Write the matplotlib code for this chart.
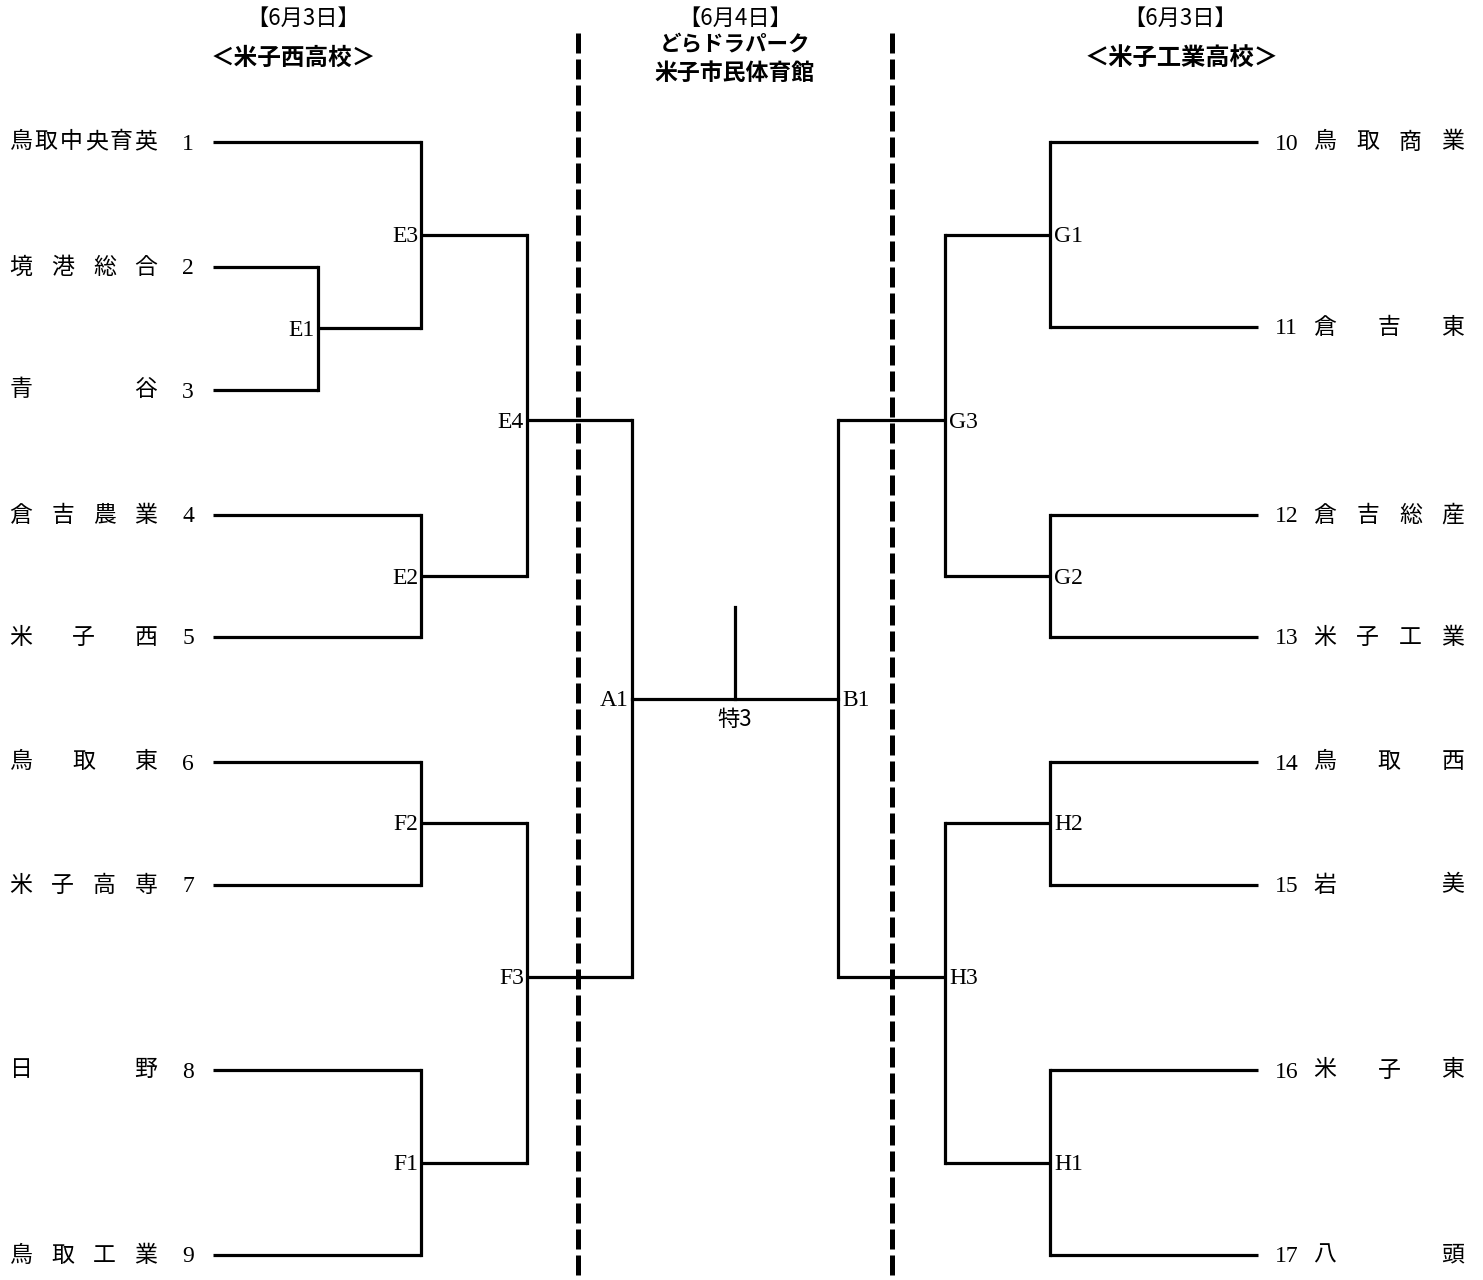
import matplotlib
matplotlib.use("Agg")
import matplotlib.pyplot as plt

# team names and numbers
left_names = ["鳥取中央育英", "境港総合", "青谷", "倉吉農業", "米子西",
              "鳥取東", "米子高専", "日野", "鳥取工業"]
left_nums = ["1", "2", "3", "4", "5", "6", "7", "8", "9"]
right_names = ["鳥取商業", "倉吉東", "倉吉総産", "米子工業",
               "鳥取西", "岩美", "米子東", "八頭"]
right_nums = ["10", "11", "12", "13", "14", "15", "16", "17"]

# match labels, which two entries they join
left_matches = ["E1", "E3", "E2", "E4", "F2", "F1", "F3", "A1"]
left_pairs = [("2", "3"), ("1", "E1"), ("4", "5"), ("E3", "E2"),
              ("6", "7"), ("8", "9"), ("F2", "F1"), ("E4", "F3")]
right_matches = ["G1", "G2", "G3", "H2", "H1", "H3", "B1"]
right_pairs = [("10", "11"), ("12", "13"), ("G1", "G2"),
               ("14", "15"), ("16", "17"), ("H2", "H1"), ("G3", "H3")]
final_label = "特3"

left_day = "【6月3日】"
left_venue = "＜米子西高校＞"
mid_day = "【6月4日】"
mid_venue = ["どらドラパーク", "米子市民体育館"]
right_day = "【6月3日】"
right_venue = "＜米子工業高校＞"

# layout (pixel coords)
left_slot_y = [142, 267, 390, 515, 637, 762, 885, 1070, 1255]
right_slot_y = [142, 327, 515, 637, 762, 885, 1070, 1255]
left_match_x = [318, 421, 421, 527, 421, 421, 527, 632]
left_match_y = [328, 235, 576, 420, 823, 1163, 977, 699]
right_match_x = [1050, 1050, 945, 1050, 1050, 945, 838]
right_match_y = [235, 576, 420, 823, 1163, 977, 699]

W, H = 1483, 1280
fig = plt.figure(figsize=(W / 100, H / 100), dpi=100)
ax = fig.add_axes([0, 0, 1, 1])
ax.set_xlim(0, W)
ax.set_ylim(H, 0)
ax.axis("off")

jp = ["Noto Sans CJK JP", "DejaVu Sans"]
serif = ["Liberation Serif", "Noto Sans CJK JP"]
lw = 2.3
dy = 2  # serif text sits a little low


def draw_side(names, nums, slot_y, matches, pairs, mx, my, team_x, side):
    pos = {}
    for n, y in zip(nums, slot_y):
        pos[n] = (team_x, y)
    for m, (a, b), x, y in zip(matches, pairs, mx, my):
        ya = pos[a][1]
        yb = pos[b][1]
        ax.plot([pos[a][0], x], [ya, ya], color="black", lw=lw, solid_capstyle="butt")
        ax.plot([pos[b][0], x], [yb, yb], color="black", lw=lw, solid_capstyle="butt")
        ax.plot([x, x], [ya, yb], color="black", lw=lw, solid_capstyle="projecting")
        pos[m] = (x, y)
        if side == "L":
            ax.text(x - 3, y + dy, m, ha="right", va="center", fontsize=17, family=serif)
        else:
            ax.text(x + 4, y + dy, m, ha="left", va="center", fontsize=17, family=serif)
    return pos


lpos = draw_side(left_names, left_nums, left_slot_y, left_matches, left_pairs,
                 left_match_x, left_match_y, 213, "L")
rpos = draw_side(right_names, right_nums, right_slot_y, right_matches, right_pairs,
                 right_match_x, right_match_y, 1258, "R")

# final
fy = lpos["A1"][1]
ax.plot([lpos["A1"][0], rpos["B1"][0]], [fy, fy], color="black", lw=lw)
mid = (lpos["A1"][0] + rpos["B1"][0]) / 2
ax.plot([mid, mid], [607, fy], color="black", lw=lw)
ax.text(mid, fy + 20, final_label, ha="center", va="center", fontsize=16, family=jp)


def spread(name, x0, x1, y):
    cw = 24
    step = (x1 - x0 - cw) / (len(name) - 1)
    for i, ch in enumerate(name):
        ax.text(x0 + cw / 2 + i * step, y, ch, ha="center", va="center",
                fontsize=16.5, family=jp)


for name, num, y in zip(left_names, left_nums, left_slot_y):
    spread(name, 9, 158, y)
    ax.text(194, y + dy, num, ha="right", va="center", fontsize=17, family=serif)
for name, num, y in zip(right_names, right_nums, right_slot_y):
    spread(name, 1313, 1465, y)
    ax.text(1275, y + dy, num, ha="left", va="center", fontsize=17, family=serif)

# venue dividers
for x in [578, 892]:
    ax.plot([x, x], [33, H], color="black", lw=3.6, dashes=(4, 1.2))

# headers
ax.text(303, 18, left_day, ha="center", va="center", fontsize=16, family=jp)
ax.text(293, 58, left_venue, ha="center", va="center", fontsize=17,
        fontweight="bold", family=jp)
ax.text(735, 18, mid_day, ha="center", va="center", fontsize=16, family=jp)
ax.text(735, 45, mid_venue[0], ha="center", va="center", fontsize=15.5,
        fontweight="bold", family=jp)
ax.text(735, 73, mid_venue[1], ha="center", va="center", fontsize=16.5,
        fontweight="bold", family=jp)
ax.text(1180, 18, right_day, ha="center", va="center", fontsize=16, family=jp)
ax.text(1182, 58, right_venue, ha="center", va="center", fontsize=17.5,
        fontweight="bold", family=jp)

fig.savefig("out.png", dpi=100)
